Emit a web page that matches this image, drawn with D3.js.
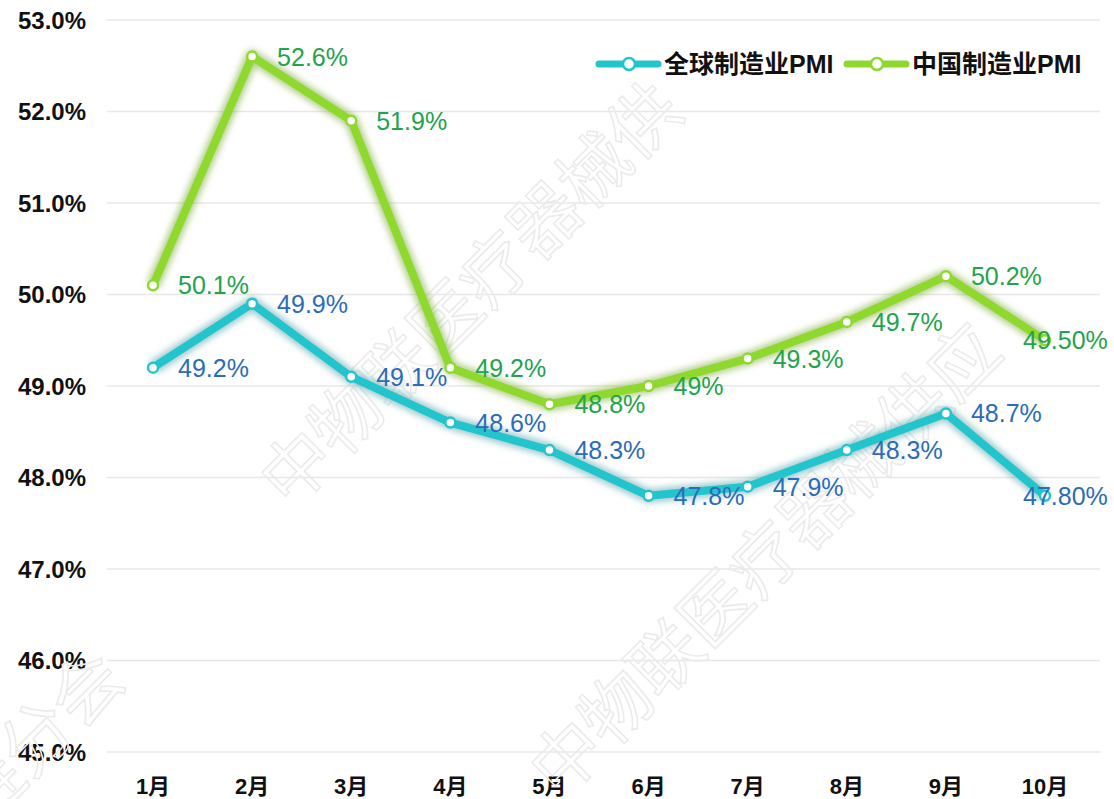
<!DOCTYPE html>
<html>
<head>
<meta charset="utf-8">
<script src="https://cdn.jsdelivr.net/npm/d3@7"></script>
<style>
  body { margin: 0; background: #fff; }
</style>
</head>
<body>
<div id="chart"></div>
<script>
// chart data
var months = ["1月", "2月", "3月", "4月", "5月", "6月", "7月", "8月", "9月", "10月"]
var globalPMI = [49.2, 49.9, 49.1, 48.6, 48.3, 47.8, 47.9, 48.3, 48.7, 47.8]
var chinaPMI = [50.1, 52.6, 51.9, 49.2, 48.8, 49.0, 49.3, 49.7, 50.2, 49.5]
var globalLabels = ["49.2%", "49.9%", "49.1%", "48.6%", "48.3%", "47.8%", "47.9%", "48.3%", "48.7%", "47.80%"]
var chinaLabels = ["50.1%", "52.6%", "51.9%", "49.2%", "48.8%", "49%", "49.3%", "49.7%", "50.2%", "49.50%"]
var yTicks = [45, 46, 47, 48, 49, 50, 51, 52, 53]
var seriesNames = ["全球制造业PMI", "中国制造业PMI"]

var width = 1114,
    height = 799

var svg = d3.select("#chart")
            .append("svg")
            .attr("width", width)
            .attr("height", height)

var defs = svg.append("defs")
defs.append("filter")
    .attr("id", "glow")
    .attr("x", "-10%").attr("y", "-10%")
    .attr("width", "120%").attr("height", "120%")
    .append("feGaussianBlur")
    .attr("stdDeviation", 3)

var x = d3.scalePoint()
          .domain(months)
          .range([153, 1045])

var y = d3.scaleLinear()
          .domain([45, 53])
          .range([752, 20])

var latin = "'Liberation Sans', Arial, sans-serif"
var cjk = "'Liberation Sans', 'Noto Sans CJK SC', sans-serif"

// grid lines
svg.append("g")
   .selectAll("line")
   .data(yTicks)
   .enter().append("line")
   .attr("x1", 107)
   .attr("x2", 1100)
   .attr("y1", d => y(d))
   .attr("y2", d => y(d))
   .attr("stroke", "#e8e8e8")
   .attr("stroke-width", 1.3)

// y axis labels
svg.append("g")
   .selectAll("text")
   .data(yTicks)
   .enter().append("text")
   .attr("x", 86)
   .attr("y", d => y(d))
   .attr("dy", "0.36em")
   .attr("text-anchor", "end")
   .attr("font-family", latin)
   .attr("font-weight", "bold")
   .attr("font-size", "24px")
   .attr("fill", "#111")
   .text(d => d.toFixed(1) + "%")

// x axis labels
svg.append("g")
   .selectAll("text")
   .data(months)
   .enter().append("text")
   .attr("x", d => x(d))
   .attr("y", 786)
   .attr("dy", "0.36em")
   .attr("text-anchor", "middle")
   .attr("font-family", cjk)
   .attr("font-weight", "bold")
   .attr("font-size", "22px")
   .attr("fill", "#111")
   .text(d => d)

// watermark
var wm = svg.append("g").attr("pointer-events", "none")
var wmText = [
    { t: "中物联医疗器械供", at: [290, 510] },
    { t: "中物联医疗器械供应", at: [560, 800] },
    { t: "链分会", at: [-20, 830] }
]
wmText.forEach(function(w) {
    wm.append("text")
      .attr("transform", "translate(" + w.at + ") rotate(-45)")
      .attr("font-family", "'Noto Sans CJK SC', sans-serif")
      .attr("font-size", "70px")
      .attr("fill", "none")
      .attr("stroke", "#ebebeb")
      .attr("stroke-width", 1.6)
      .text(w.t)
})

var series = [
    { name: seriesNames[0], values: globalPMI, labels: globalLabels, color: "#22c5cc", glow: "#5fa8b0", text: "#2b6cb8" },
    { name: seriesNames[1], values: chinaPMI, labels: chinaLabels, color: "#8fd92e", glow: "#86b24a", text: "#23a34b" }
]

var line = d3.line()
             .x((d, i) => x(months[i]))
             .y(d => y(d))

series.forEach(function(s) {
    var g = svg.append("g")
    g.append("path")
     .attr("d", line(s.values))
     .attr("fill", "none")
     .attr("stroke", s.glow)
     .attr("stroke-opacity", 0.6)
     .attr("stroke-width", 14)
     .attr("stroke-linejoin", "round")
     .attr("filter", "url(#glow)")
    g.append("path")
     .attr("d", line(s.values))
     .attr("fill", "none")
     .attr("stroke", s.color)
     .attr("stroke-width", 8)
     .attr("stroke-linejoin", "round")
    g.selectAll("circle")
     .data(s.values)
     .enter().append("circle")
     .attr("cx", (d, i) => x(months[i]))
     .attr("cy", d => y(d))
     .attr("r", 5)
     .attr("fill", "#fff")
     .attr("stroke", s.color)
     .attr("stroke-width", 2.5)
})

// data labels, the last one sits over its point
var last = months.length - 1
series.forEach(function(s) {
    svg.append("g")
       .selectAll("text")
       .data(s.values)
       .enter().append("text")
       .attr("x", (d, i) => x(months[i]) + (i == last ? -22 : 25))
       .attr("y", d => y(d))
       .attr("dy", "0.36em")
       .attr("font-family", latin)
       .attr("font-size", "25px")
       .attr("fill", s.text)
       .text((d, i) => s.labels[i])
})

// legend
var legend = svg.append("g")
var legendX = [599, 847]
series.forEach(function(s, i) {
    var lg = legend.append("g").attr("transform", "translate(" + legendX[i] + ",64)")
    lg.append("line")
      .attr("x1", 0).attr("x2", 59)
      .attr("stroke", s.color)
      .attr("stroke-width", 7)
      .attr("stroke-linecap", "round")
    lg.append("circle")
      .attr("cx", 30)
      .attr("r", 6)
      .attr("fill", "#fff")
      .attr("stroke", s.color)
      .attr("stroke-width", 2.5)
    lg.append("text")
      .attr("x", 65)
      .attr("dy", "0.36em")
      .attr("font-family", cjk)
      .attr("font-weight", "bold")
      .attr("font-size", "25px")
      .attr("fill", "#111")
      .text(s.name)
})
</script>
</body>
</html>
